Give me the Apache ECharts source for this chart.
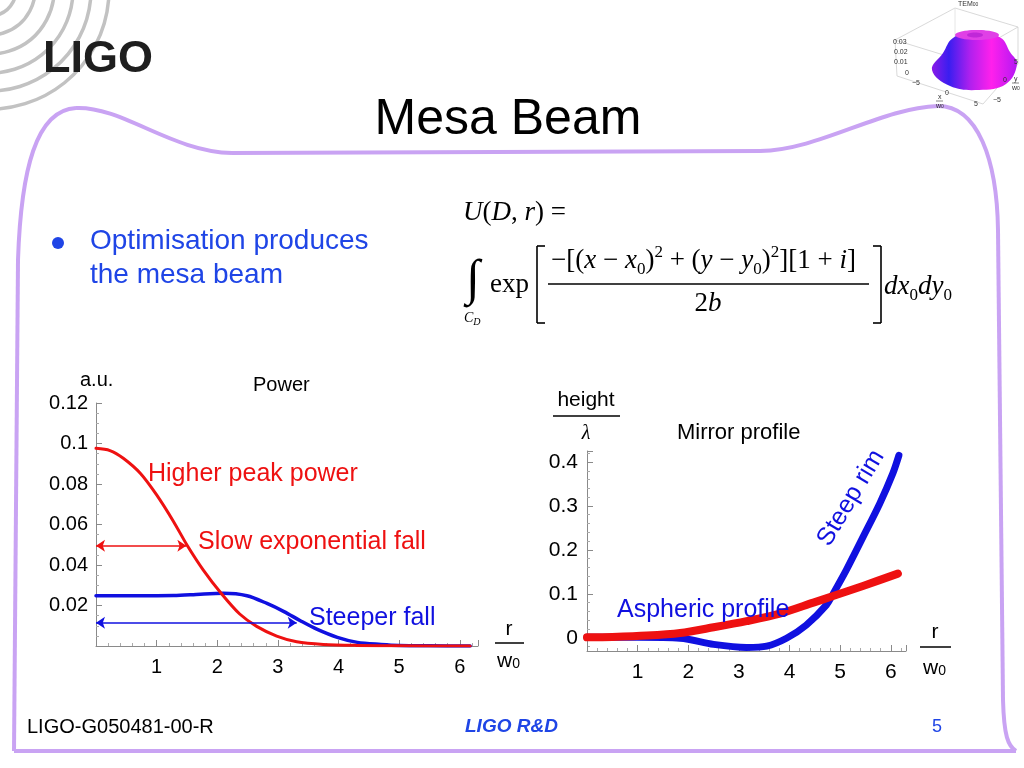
<!DOCTYPE html>
<html><head><meta charset="utf-8">
<script src="https://cdn.jsdelivr.net/npm/echarts@6/dist/echarts.min.js"></script>
<style>html,body{margin:0;padding:0;background:#fff}#c{width:1024px;height:768px}</style>
</head><body><div id="c"></div>
<script>
// ---------- data: Power chart (left) ----------
const powerGaussR   = [0, 0.23, 0.45, 0.73, 1.0, 1.28, 1.5, 1.77, 2.07, 2.37, 2.65, 2.98, 3.31, 3.75, 4.3, 5.0, 6.17];
const powerGaussVal = [0.0976, 0.0965, 0.0927, 0.0853, 0.0746, 0.0614, 0.0499, 0.0375, 0.0258, 0.0158, 0.0097, 0.0049, 0.0021, 0.0008, 0.0003, 0.0001, 0];
const powerMesaR    = [0, 0.6, 1.28, 1.72, 2.1, 2.49, 2.82, 3.1, 3.37, 3.65, 3.98, 4.31, 4.7, 5.0, 5.5, 6.17];
const powerMesaVal  = [0.0248, 0.0248, 0.0249, 0.0256, 0.026, 0.0248, 0.021, 0.017, 0.0125, 0.0082, 0.0043, 0.0018, 0.0008, 0.0003, 0.0001, 0];
const powerArrowLevel = [0.0495, 0.0115];
const powerArrowEnd   = [1.49, 3.31];
const powerXTicks = [1, 2, 3, 4, 5, 6];
const powerYTicks = [0.02, 0.04, 0.06, 0.08, 0.1, 0.12];
// ---------- data: Mirror profile chart (right) ----------
const mirrorSphR    = [0, 0.5, 1.18, 1.84, 2.5, 3.15, 3.81, 4.47, 4.86, 5.45, 6.14];
const mirrorSphVal  = [0.001, 0.002, 0.005, 0.011, 0.024, 0.038, 0.055, 0.08, 0.095, 0.118, 0.146];
const mirrorMesaR   = [0, 1.0, 1.84, 2.5, 3.15, 3.55, 3.94, 4.33, 4.73, 4.86, 5.12, 5.45, 5.78, 6.04, 6.16];
const mirrorMesaVal = [0.001, 0.001, -0.001, -0.015, -0.022, -0.019, -0.001, 0.029, 0.075, 0.1, 0.154, 0.229, 0.305, 0.374, 0.415];
const mirrorXTicks = [1, 2, 3, 4, 5, 6];
const mirrorYTicks = [0, 0.1, 0.2, 0.3, 0.4];

const SANS = 'Liberation Sans', SERIF = 'Liberation Serif';
const RED = '#ee1111', BLUE = '#1010e0', TXTBLUE = '#1f45e6', PURPLE = '#c9a3f3';
const zip = (a, b) => a.map((v, i) => [v, b[i]]);
const has = (list, v) => list.some(t => Math.abs(t - v) < 1e-9);

function axisCommon(extra) {
  return Object.assign({
    type: 'value',
    axisLine: { show: true, onZero: false, lineStyle: { color: '#8a8a8a', width: 1 } },
    axisTick: { show: true, inside: true, length: 6, lineStyle: { color: '#8a8a8a' } },
    minorTick: { show: true, splitNumber: 5, length: 3, lineStyle: { color: '#aaaaaa' } },
    splitLine: { show: false },
    axisLabel: { color: '#000', fontFamily: SANS, fontSize: 20, margin: 9 }
  }, extra);
}

const chart = echarts.init(document.getElementById('c'), null, { renderer: 'canvas' });

function T(text, x, y, size, color, opt) {
  return {
    type: 'text', z: 50,
    style: Object.assign({ text, x, y, fill: color || '#000', font: `${size}px "${SANS}"`,
      textAlign: 'left', textVerticalAlign: 'middle', align: 'left', verticalAlign: 'middle' }, (opt && opt.style) || {})
  };
}
function L(x1, y1, x2, y2, color, w, z) {
  return { type: 'line', z: z || 50, shape: { x1, y1, x2, y2 }, style: { stroke: color || '#000', lineWidth: w || 1 } };
}
function B(x1, y1, cpx1, cpy1, cpx2, cpy2, x2, y2, color, w, z) {
  return { type: 'bezierCurve', z: z || 0, shape: { x1, y1, cpx1, cpy1, cpx2, cpy2, x2, y2 }, style: { stroke: color, lineWidth: w, fill: null } };
}

const serifRich = {
  i: { fontStyle: 'italic', fontFamily: SERIF, fontSize: 27, lineHeight: 34 },
  sub: { fontFamily: SERIF, fontSize: 17, lineHeight: 17, verticalAlign: 'bottom' },
  sup: { fontFamily: SERIF, fontSize: 17, lineHeight: 17, verticalAlign: 'top' }
};
function M(text, x, y, align) {
  return { type: 'text', z: 50, style: { text, x, y, fill: '#000', font: `27px "${SERIF}"`, lineHeight: 34,
    textAlign: align || 'left', align: align || 'left', textVerticalAlign: 'middle', verticalAlign: 'middle', rich: serifRich } };
}

const arcs = [26, 45, 64, 83, 101, 119].map(r => ({ type: 'arc', z: 1,
  shape: { cx: -10, cy: -10, r, startAngle: -0.3, endAngle: 1.9, clockwise: true },
  style: { stroke: '#c2c2c2', lineWidth: 3.5, fill: null } }));

const border = [
  L(14, 751, 1016, 751, PURPLE, 4, 0),
  B(1016, 751, 1008, 746, 1004, 736, 1003, 700, PURPLE, 4),
  L(1003, 700, 998, 230, PURPLE, 4, 0),
  B(998, 230, 997, 160, 978, 106, 938, 106, PURPLE, 4),
  B(938, 106, 880, 108, 820, 150, 760, 151, PURPLE, 4),
  L(760, 151, 232, 153, PURPLE, 4, 0),
  B(232, 153, 172, 152, 122, 106, 76, 108, PURPLE, 4),
  B(76, 108, 36, 110, 21, 170, 18, 260, PURPLE, 4),
  L(18, 260, 14, 751, PURPLE, 4, 0)
];

const small = { rich: { s: { fontSize: 5, verticalAlign: 'bottom', lineHeight: 6 } } };
const graphics = [
  ...border,
  ...arcs,
  T('LIGO', 43, 60, 45, '#1e1e1e', { style: { font: `900 45px "${SANS}"` } }),
  T('Mesa Beam', 508, 120, 50, '#000', { style: { textAlign: 'center', align: 'center' } }),
  // bullet
  { type: 'circle', z: 50, shape: { cx: 58, cy: 243, r: 6 }, style: { fill: TXTBLUE } },
  T('Optimisation produces', 90, 241, 28, TXTBLUE),
  T('the mesa beam', 90, 275, 28, TXTBLUE),
  // formula
  M('{i|U}({i|D}, {i|r}) =', 463, 213),
  { type: 'text', z: 50, style: { text: '\u222B', x: 466, y: 281, fill: '#000', font: `50px "${SERIF}"`, textVerticalAlign: 'middle', verticalAlign: 'middle' } },
  { type: 'text', z: 50, style: { text: '{c|C}{d|D}', x: 464, y: 318, fill: '#000', font: `14px "${SERIF}"`, textVerticalAlign: 'middle', verticalAlign: 'middle',
      rich: { c: { fontStyle: 'italic', fontFamily: SERIF, fontSize: 14, lineHeight: 18 }, d: { fontStyle: 'italic', fontFamily: SERIF, fontSize: 10, lineHeight: 10, verticalAlign: 'bottom' } } } },
  M('exp', 490, 285),
  L(545, 246, 537, 246, '#000', 1.6), L(537, 246, 537, 323, '#000', 1.6), L(537, 323, 545, 323, '#000', 1.6),
  L(873, 246, 881, 246, '#000', 1.6), L(881, 246, 881, 323, '#000', 1.6), L(881, 323, 873, 323, '#000', 1.6),
  M('\u2212[({i|x} \u2212 {i|x}{sub|0}){sup|2} + ({i|y} \u2212 {i|y}{sub|0}){sup|2}][1 + {i|i}]', 551, 261),
  L(548, 284, 869, 284, '#000', 1.3),
  M('2{i|b}', 708, 304, 'center'),
  M('{i|dx}{sub|0}{i|dy}{sub|0}', 884, 287),
  // left chart texts
  T('a.u.', 80, 380, 20), T('Power', 253, 385, 20),
  T('r', 509, 629, 21, '#000', { style: { textAlign: 'center', align: 'center' } }),
  L(495, 643, 524, 643, '#000', 1.5),
  T('w{s|0}', 497, 661, 21, '#000', { style: { rich: { s: { fontSize: 14, fontFamily: SANS, verticalAlign: 'bottom', lineHeight: 14 } } } }),
  T('Higher peak power', 148, 474, 25, RED),
  T('Slow exponential fall', 198, 542, 25, RED),
  T('Steeper fall', 309, 618, 25, BLUE),
  // right chart texts
  T('height', 586, 400, 21, '#000', { style: { textAlign: 'center', align: 'center' } }),
  L(553, 416, 620, 416, '#000', 1.5),
  { type: 'text', z: 50, style: { text: '\u03BB', x: 586, y: 434, fill: '#000', font: `italic 20px "${SERIF}"`, textAlign: 'center', align: 'center', textVerticalAlign: 'middle', verticalAlign: 'middle' } },
  T('Mirror profile', 677, 433, 22),
  T('r', 935, 632, 21, '#000', { style: { textAlign: 'center', align: 'center' } }),
  L(920, 647, 951, 647, '#000', 1.5),
  T('w{s|0}', 923, 668, 21, '#000', { style: { rich: { s: { fontSize: 14, fontFamily: SANS, verticalAlign: 'bottom', lineHeight: 14 } } } }),
  T('Aspheric profile', 617, 610, 25, BLUE),
  { type: 'text', z: 50, x: 851, y: 498, rotation: 1.03, style: { text: 'Steep rim', x: 0, y: 0, fill: BLUE, font: `25px "${SANS}"`,
      textAlign: 'center', align: 'center', textVerticalAlign: 'middle', verticalAlign: 'middle' } },
  // footer
  T('LIGO-G050481-00-R', 27, 727, 20),
  T('LIGO R&D', 465, 727, 19, TXTBLUE, { style: { font: `italic bold 19px "${SANS}"` } }),
  T('5', 932, 727, 18, TXTBLUE),
  // 3D inset (TEM00 mesa)
  L(895, 40, 955, 8, '#cfcfcf', 0.8, 5), L(955, 8, 1018, 27, '#cfcfcf', 0.8, 5),
  L(1018, 27, 960, 60, '#cfcfcf', 0.8, 5), L(960, 60, 895, 40, '#cfcfcf', 0.8, 5),
  L(895, 40, 897, 76, '#cfcfcf', 0.8, 5), L(1018, 27, 1018, 64, '#cfcfcf', 0.8, 5),
  L(897, 76, 983, 104, '#cfcfcf', 0.8, 5), L(983, 104, 1018, 64, '#cfcfcf', 0.8, 5),
  L(955, 8, 955, 45, '#e0e0e0', 0.8, 5),
  { type: 'polygon', z: 6, shape: { smooth: 0.4, points: [[932, 70], [943, 53], [953, 38], [977, 30], [1001, 38], [1010, 52], [1017, 64], [1006, 84], [979, 90], [950, 86]] },
    style: { fill: { type: 'linear', x: 0, y: 0, x2: 1, y2: 0, colorStops: [
      { offset: 0, color: '#8a1ae8' }, { offset: 0.2, color: '#3a1ef0' }, { offset: 0.45, color: '#b020ee' },
      { offset: 0.7, color: '#ff20ec' }, { offset: 1, color: '#b418f4' }] }, stroke: null } },
  { type: 'ellipse', z: 7, shape: { cx: 977, cy: 35, rx: 22, ry: 5 }, style: { fill: '#e040e6' } },
  { type: 'ellipse', z: 8, shape: { cx: 975, cy: 35, rx: 8, ry: 2.5 }, style: { fill: '#c028d8' } },
  T('TEM{s|00}', 958, 4, 7, '#333', { style: small }),
  T('0.03', 893, 42, 7, '#333'), T('0.02', 894, 52, 7, '#333'), T('0.01', 894, 62, 7, '#333'), T('0', 905, 73, 7, '#333'),
  T('\u22125', 912, 83, 7, '#333'), T('0', 945, 93, 7, '#333'), T('5', 974, 104, 7, '#333'),
  T('\u22125', 993, 100, 7, '#333'), T('0', 1003, 80, 7, '#333'), T('5', 1014, 62, 7, '#333'),
  T('x', 938, 97, 7, '#333'), L(936, 101, 943, 101, '#333', 0.6, 50), T('w{s|0}', 936, 106, 7, '#333', { style: small }),
  T('y', 1014, 79, 7, '#333'), L(1012, 83, 1019, 83, '#333', 0.6, 50), T('w{s|0}', 1012, 88, 7, '#333', { style: small })
];

const lineSeries = (xi, r, v, color, width, z, extra) => Object.assign({
  type: 'line', xAxisIndex: xi, yAxisIndex: xi, data: zip(r, v), showSymbol: false, symbol: 'none',
  smooth: 0.3, lineStyle: { color, width, cap: 'round', join: 'round' }, z
}, extra || {});
const arrowLine = (color, level, end) => ({
  silent: true, symbol: ['arrow', 'arrow'], symbolSize: 9, label: { show: false },
  lineStyle: { color, width: 1.5, type: 'solid' },
  data: [[{ coord: [0, level] }, { coord: [end, level] }]]
});

const option = {
  animation: false,
  backgroundColor: '#fff',
  grid: [
    { left: 96, top: 403, width: 382, height: 243, containLabel: false, outerBoundsMode: 'none' },
    { left: 587, top: 451, width: 319, height: 200, containLabel: false, outerBoundsMode: 'none' }
  ],
  xAxis: [
    axisCommon({ gridIndex: 0, min: 0, max: 6.3, interval: 1,
      axisLabel: { color: '#000', fontFamily: SANS, fontSize: 20, margin: 11, showMaxLabel: false,
        formatter: v => has(powerXTicks, v) ? String(Math.round(v)) : '' } }),
    axisCommon({ gridIndex: 1, min: 0, max: 6.3, interval: 1,
      axisLabel: { color: '#000', fontFamily: SANS, fontSize: 21, margin: 11, showMaxLabel: false,
        formatter: v => has(mirrorXTicks, v) ? String(Math.round(v)) : '' } })
  ],
  yAxis: [
    axisCommon({ gridIndex: 0, min: 0, max: 0.12, interval: 0.02,
      minorTick: { show: true, splitNumber: 4, length: 3, lineStyle: { color: '#aaaaaa' } },
      axisLabel: { color: '#000', fontFamily: SANS, fontSize: 20, margin: 8,
        formatter: v => has(powerYTicks, v) ? String(+v.toFixed(2)) : '' } }),
    axisCommon({ gridIndex: 1, min: -0.03, max: 0.425, splitNumber: 5,
      axisLabel: { color: '#000', fontFamily: SANS, fontSize: 21, margin: 9, showMinLabel: false, showMaxLabel: false,
        formatter: v => has(mirrorYTicks, v) ? String(+v.toFixed(1)) : '' } })
  ],
  series: [
    lineSeries(0, powerMesaR, powerMesaVal, BLUE, 3.5, 3, { markLine: arrowLine(BLUE, powerArrowLevel[1], powerArrowEnd[1]) }),
    lineSeries(0, powerGaussR, powerGaussVal, RED, 3, 4, { markLine: arrowLine(RED, powerArrowLevel[0], powerArrowEnd[0]) }),
    lineSeries(1, mirrorMesaR, mirrorMesaVal, BLUE, 7, 3),
    lineSeries(1, mirrorSphR, mirrorSphVal, RED, 8, 4)
  ],
  graphic: { elements: graphics }
};
chart.setOption(option);
</script></body></html>
